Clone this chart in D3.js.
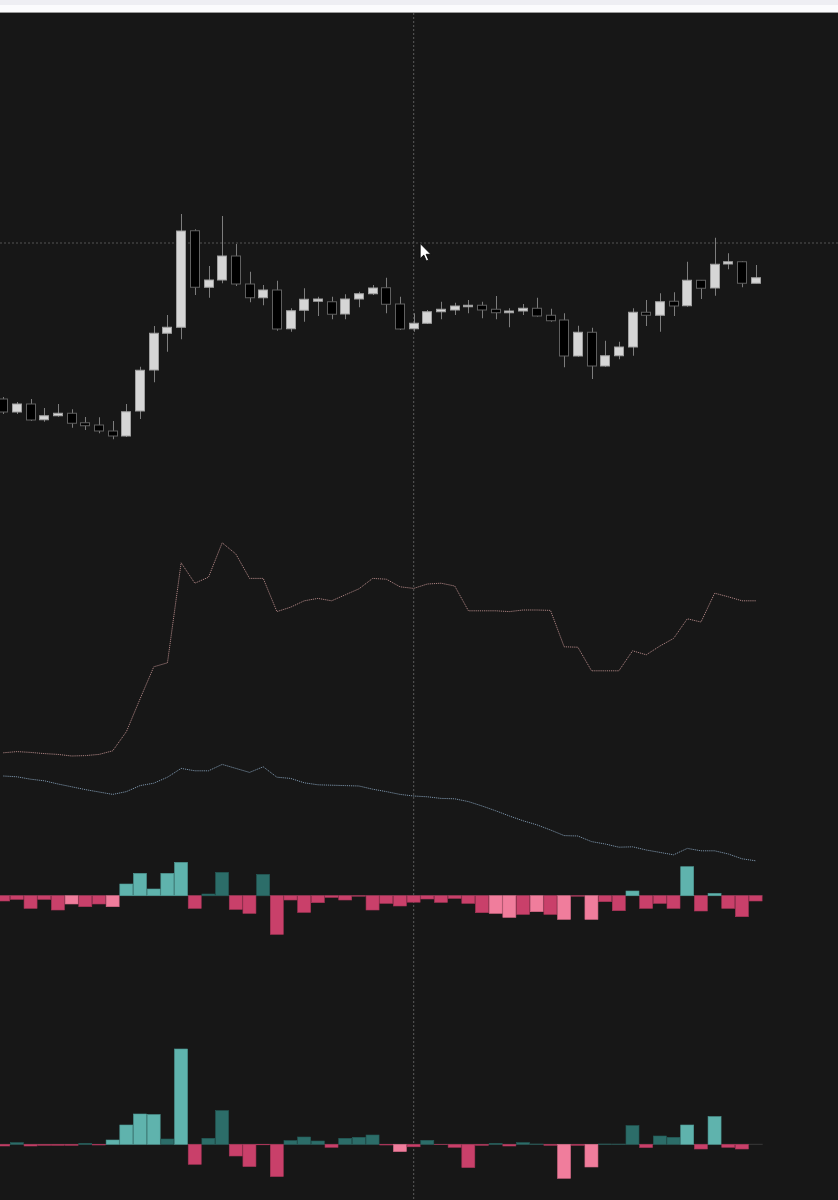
<!DOCTYPE html>
<html><head><meta charset="utf-8">
<script src="https://cdn.jsdelivr.net/npm/d3@7"></script>
<style>
html,body{margin:0;padding:0;background:#171717;overflow:hidden}
svg{display:block}
</style></head>
<body>
<svg id="c" width="838" height="1200"></svg>
<script>
// ---- data (price units) ----
const open  = [14.04,13.52,13.84,13.21,13.37,13.47,13.09,13.00,12.76,12.56,13.56,15.20,16.67,16.91,20.77,18.51,18.80,19.76,18.64,18.09,18.40,16.85,17.59,17.95,17.93,17.44,18.04,18.25,18.49,17.84,16.85,17.07,17.53,17.60,17.76,17.79,17.63,17.49,17.56,17.67,17.39,17.20,15.76,16.71,15.36,15.77,16.12,17.51,17.39,17.95,17.77,18.79,18.48,19.44,19.53,18.67];
const high  = [14.12,13.92,14.04,13.68,13.84,13.63,13.32,13.31,13.16,13.84,15.33,16.96,17.40,21.44,20.83,19.36,21.36,20.24,19.13,18.60,18.77,17.67,18.47,18.13,18.13,18.23,18.33,18.60,18.89,18.13,17.47,17.60,17.93,17.89,18.00,17.93,18.16,17.67,17.84,18.09,17.65,17.47,16.97,16.89,16.37,16.33,17.67,18.00,18.27,18.31,19.53,18.80,20.49,19.87,19.56,19.40];
const low   = [13.44,13.44,13.16,13.13,13.33,12.89,12.80,12.67,12.43,12.52,13.24,14.71,15.93,16.43,18.20,18.09,18.67,18.56,17.91,17.79,16.77,16.73,17.13,17.36,17.23,17.23,17.71,18.20,17.47,16.80,16.73,17.04,17.23,17.40,17.47,17.27,17.23,16.91,17.40,17.33,17.13,15.31,15.73,14.84,15.33,15.63,15.77,16.96,16.73,17.36,17.73,18.04,18.17,19.23,18.51,18.67];
const close = [13.52,13.84,13.20,13.37,13.47,13.07,12.97,12.76,12.56,13.53,15.19,16.67,16.91,20.76,18.51,18.80,19.76,18.64,18.09,18.40,16.84,17.57,18.03,18.04,17.43,18.04,18.25,18.48,17.83,16.84,17.07,17.53,17.63,17.76,17.79,17.60,17.49,17.56,17.67,17.36,17.17,15.76,16.71,15.36,15.77,16.12,17.51,17.39,17.93,17.76,18.79,18.47,19.43,19.53,18.67,18.89];

// two indicator lines
const lineA = [36.8,37.1,36.9,36.6,36.4,36.0,36.1,36.4,37.3,42.1,50.3,58.3,59.3,84.3,79.2,80.7,89.3,86.5,80.4,80.4,72.1,73.2,74.8,75.4,74.8,76.3,77.8,80.4,80.2,78.3,77.9,79.0,79.2,78.5,72.3,72.3,72.3,72.1,72.5,72.5,72.4,63.3,63.2,57.3,57.3,57.3,62.3,61.3,63.5,65.4,70.3,69.5,76.7,75.8,74.8,74.8];
const lineB = [31.0,30.8,30.2,29.8,29.0,28.3,27.6,27.0,26.4,27.1,28.6,29.2,30.7,32.9,32.3,32.3,33.9,32.9,31.9,33.3,30.7,30.4,29.3,28.8,28.7,28.6,28.5,27.7,27.1,26.4,26.0,25.8,25.4,25.3,24.6,23.5,22.3,21.0,19.8,18.8,17.5,16.1,16.0,14.6,14.0,13.2,13.3,12.5,11.9,11.3,12.9,12.3,12.3,11.5,10.3,9.8];

// histogram 1 values and tone (1 = soft shade)
const hist1 = [-5.3,-3.7,-12.7,-3.7,-14.3,-8.3,-11,-8.3,-11,11.7,22.3,6.7,22.3,33.3,-12.7,1.7,23.3,-13.7,-17.7,21.3,-38.7,-4.3,-16.7,-7,-1.7,-4.3,-0.5,-14.3,-7.7,-10.3,-6.5,-3.3,-6.7,-2.7,-7.7,-17,-17.7,-21.7,-18.7,-16,-18.7,-23.7,-0.5,-23.7,-6,-15,4.7,-12.7,-7.7,-12.7,29,-15.3,2.3,-12.7,-21,-5.3];
const tone1 = [0,0,0,0,0,1,0,0,1,1,1,1,1,1,0,0,0,0,0,0,0,0,0,0,0,0,0,0,0,0,0,0,0,0,0,0,1,1,0,1,0,1,0,1,0,0,1,0,0,0,1,0,1,0,0,0];

// histogram 2 values and tone
const hist2 = [-1.7,1.7,-1.7,-1,-1,-1,1,-0.7,4.3,19.3,30.3,29.7,5.3,95.3,-20,6,33.7,-11.7,-22.3,-0.5,-32.3,3.7,7.3,3.3,-3,6,7,9.3,-0.7,-7.3,-2.5,4,-0.3,-3,-23.3,-1,1,-1.7,1.7,0.3,-1,-34,-1,-22.7,0.3,0.2,18.7,-3.3,8.3,7,19.3,-4.7,27.7,-3,-4.7,0];
const tone2 = [0,0,0,0,0,0,0,0,1,1,1,1,0,1,0,0,0,0,0,0,0,0,0,0,0,0,0,0,0,1,0,0,0,0,0,0,0,0,0,0,0,1,0,1,0,0,0,0,0,0,1,0,1,0,0,0];

const crossIndex = 30;
const crossPrice = 20.28;

// ---- drawing ----
const W = 838, H = 1200;
const svg = d3.select("#c");
const idx = d3.range(open.length);

svg.append("rect").attr("x",0).attr("y",0).attr("width",W).attr("height",H).attr("fill","#171717");
// top browser strip
svg.append("rect").attr("x",0).attr("y",0).attr("width",W).attr("height",12).attr("fill","#fbfbfd");
svg.append("rect").attr("x",0).attr("y",0).attr("width",W).attr("height",5).attr("fill","#eeeef3");
svg.append("line").attr("x1",0).attr("x2",W).attr("y1",12.5).attr("y2",12.5).attr("stroke","#9a9a9a").attr("stroke-width",1);

const x = d3.scaleLinear().domain([0, 55]).range([3.3, 755.7]);
const yP = d3.scaleLinear().domain([10, 30]).range([500, 0]);
const yL = d3.scaleLinear().domain([0, 100]).range([900, 500]);
const yH1 = d3.scaleLinear().domain([-50, 50]).range([945.7, 845.7]);
const yH2 = d3.scaleLinear().domain([-100, 100]).range([1244.3, 1044.3]);

const gMain = svg.append("g");

// crosshair
gMain.append("line").attr("x1",x(crossIndex)).attr("x2",x(crossIndex)).attr("y1",13).attr("y2",H)
  .attr("stroke","#5a5a5a").attr("stroke-width",1).attr("stroke-dasharray","2,2");
gMain.append("line").attr("x1",0).attr("x2",W).attr("y1",yP(crossPrice)).attr("y2",yP(crossPrice))
  .attr("stroke","#555").attr("stroke-width",1).attr("stroke-dasharray","2,2");

// candles
const bw = 10;
const cg = gMain.append("g");
cg.selectAll("line.wick").data(idx).join("line").attr("class","wick")
  .attr("x1",i=>Math.round(x(i))+0.5).attr("x2",i=>Math.round(x(i))+0.5)
  .attr("y1",i=>yP(high[i])).attr("y2",i=>yP(low[i]))
  .attr("stroke","#7d7d7d").attr("stroke-width",1);
cg.selectAll("rect.body").data(idx).join("rect").attr("class","body")
  .attr("x",i=>Math.round(x(i))-bw/2+0.5)
  .attr("y",i=>yP(Math.max(open[i],close[i])))
  .attr("width",bw-1)
  .attr("height",i=>Math.max(1.5, Math.abs(yP(open[i])-yP(close[i]))))
  .attr("fill",i=>close[i]>=open[i] ? "#d6d6d6" : "#000")
  .attr("stroke",i=>close[i]>=open[i] ? "#a0a0a0" : "#606060")
  .attr("stroke-width",1);

// indicator lines
const lineGen = vals => d3.line().x((d,i)=>x(i)).y(d=>yL(d))(vals);
gMain.append("path").attr("d",lineGen(lineA)).attr("fill","none")
  .attr("stroke","#a8807f").attr("stroke-width",1).attr("stroke-dasharray","1.2,0.9");
gMain.append("path").attr("d",lineGen(lineB)).attr("fill","none")
  .attr("stroke","#7890a6").attr("stroke-width",1).attr("stroke-dasharray","1.2,0.9");

// histograms
function colorOf(v, t){
  if (v >= 0) return t ? "#5fb3ad" : "#2c6d69";
  return t ? "#f07d9c" : "#c9406a";
}
function strokeOf(v, t){
  if (v >= 0) return t ? "#4e9a95" : "#245a57";
  return t ? "#d86a88" : "#a83558";
}
function drawHist(vals, tones, ys){
  const g = gMain.append("g");
  g.append("line").attr("x1",0).attr("x2",x(55)+7).attr("y1",ys(0)).attr("y2",ys(0))
    .attr("stroke","#3a3a3a").attr("stroke-width",1);
  g.selectAll("rect").data(idx).join("rect")
    .attr("x",i=>x(i)-6.6)
    .attr("width",13)
    .attr("y",i=>Math.min(ys(vals[i]), ys(0)))
    .attr("height",i=>Math.abs(ys(vals[i])-ys(0)))
    .attr("fill",i=>colorOf(vals[i],tones[i]))
    .attr("stroke",i=>strokeOf(vals[i],tones[i]))
    .attr("stroke-width",0.6);
}
drawHist(hist1, tone1, yH1);
drawHist(hist2, tone2, yH2);

// mouse pointer
svg.append("path")
  .attr("transform",`translate(${x(crossIndex)+6.5},${yP(crossPrice)+0.5})`)
  .attr("d","M0,0 L0,15 L3.6,11.6 L6.2,17.4 L8.4,16.4 L5.9,10.8 L10.6,10.8 Z")
  .attr("fill","#ffffff").attr("stroke","#000").attr("stroke-width",0.8);
</script>
</body></html>
